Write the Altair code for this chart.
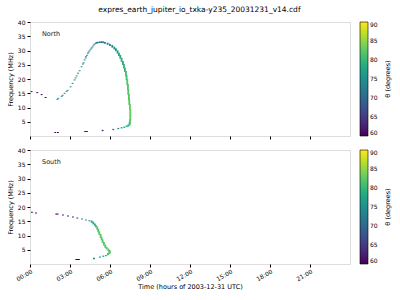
import altair as alt
import pandas as pd

TITLE = "expres_earth_jupiter_io_txka-y235_20031231_v14.cdf"

# North: time (h), lower / upper frequency (MHz), theta (deg)
north_t = [0.05, 0.475, 0.8, 1.1, 1.825, 2.025, 4.07, 4.2,
           1.975, 2.05, 2.30, 2.375, 2.525, 2.675, 2.75, 2.975, 3.125, 3.275, 3.35, 3.425,
           3.525, 3.65, 3.8, 3.9, 3.95, 4.025, 4.1, 4.125, 4.2, 4.275, 4.325, 4.4, 4.475,
           4.55, 4.625, 4.7, 4.775, 4.875, 4.925, 5.025, 5.175, 5.3, 5.425, 5.55,
           5.75, 5.925, 6.1, 6.25, 6.375, 6.5, 6.6, 6.7, 6.8, 6.9, 6.975, 7.05, 7.125,
           7.175, 7.225, 7.275, 7.3, 7.35, 7.375, 7.425, 7.45, 7.425, 7.4, 7.3, 7.175,
           7.0, 6.8, 6.55, 6.175, 5.375]
north_flo = [15.4, 15.05, 14.35, 13.3, 1.05, 1.05, 1.4, 1.4,
             12.7, 13.05, 13.75, 14.1, 14.8, 15.5, 15.85, 17.1, 18.3, 19.5, 20.2, 20.9,
             21.8, 22.7, 24.1, 25.1, 25.5, 26.5, 27.2, 27.6, 28.2, 28.9, 29.3, 29.7, 30.3,
             30.7, 31.1, 31.7, 32.1, 32.4, 32.5, 32.55, 32.6, 32.6, 32.6, 32.4,
             32.0, 31.6, 31.0, 30.4, 29.7, 28.9, 28.1, 27.1, 26.0, 24.9, 23.7, 22.5, 21.0,
             19.6, 17.9, 16.1, 14.4, 12.6, 10.9, 9.1, 5.5, 4.5, 3.7, 3.3, 3.1,
             2.85, 2.65, 2.4, 2.05, 1.7]
north_fhi = [15.4, 15.05, 14.35, 13.3, 1.05, 1.05, 1.4, 1.4,
             12.7, 13.05, 13.75, 14.1, 14.8, 15.5, 15.85, 17.1, 18.3, 19.5, 20.2, 20.9,
             21.8, 22.7, 24.1, 25.1, 25.5, 26.5, 27.2, 27.6, 28.2, 28.9, 29.3, 29.7, 30.3,
             30.7, 31.1, 31.7, 32.1, 32.4, 32.6, 32.75, 32.85, 32.9, 32.85, 32.65,
             32.4, 32.0, 31.6, 31.0, 30.4, 29.7, 28.9, 28.1, 27.1, 26.0, 24.9, 23.7, 22.5,
             21.0, 19.6, 17.9, 16.1, 14.4, 12.6, 10.9, 9.1, 5.5, 4.5, 3.7, 3.3,
             2.95, 2.75, 2.5, 2.15, 1.8]
north_theta = [60, 60, 60, 60, 60, 60, 61, 61,
               74, 74, 74, 74, 74, 74, 74, 74, 74, 74, 74, 74,
               74, 74, 74, 74, 74, 74, 74, 74, 74, 73, 73, 73, 73,
               73, 73, 72, 72, 72, 72, 72, 72, 72, 72, 72,
               73, 74, 75, 76, 77, 77, 78, 78, 79, 79, 80, 80, 81,
               81, 82, 82, 82, 82, 82, 83, 83, 82, 80, 79, 78,
               77, 76, 74, 69, 62]

# South
south_t = [0.075, 0.375, 1.9, 2.0, 2.4, 2.775, 3.15, 3.475, 3.4, 3.5, 3.6,
           3.825, 4.125, 4.375, 4.55, 4.675, 4.8, 4.875, 4.975, 5.05, 5.125, 5.225,
           5.3, 5.375, 5.475, 5.575, 5.675, 5.8, 5.875, 5.925, 5.775, 5.625, 5.425,
           5.175, 4.725]
south_flo = [18.0, 17.7, 17.35, 17.35, 17.0, 16.65, 16.3, 15.95, 1.4, 1.4, 1.4,
             15.6, 15.25, 15.0, 14.5, 13.9, 13.3, 12.8, 12.0, 11.1, 10.2, 9.2,
             8.3, 7.4, 6.5, 5.7, 5.1, 4.6, 3.5, 3.8, 3.1, 2.75, 2.5,
             2.15, 1.7]
south_fhi = [18.0, 17.7, 17.35, 17.35, 17.0, 16.65, 16.3, 15.95, 1.4, 1.4, 1.4,
             15.6, 15.25, 15.0, 14.9, 14.5, 13.9, 13.3, 12.8, 12.0, 11.1, 10.2,
             9.2, 8.3, 7.4, 6.5, 5.7, 5.1, 4.6, 4.4, 3.5, 2.85, 2.6,
             2.25, 1.8]
south_theta = [60, 60, 60, 60, 61, 61, 62, 63, 60, 60, 60,
               72, 73, 74, 76, 78, 80, 81, 82, 82, 82, 82,
               82, 82, 82, 82, 82, 82, 82, 82, 81, 79, 77,
               75, 72]

hour_ticks = [0, 3, 6, 9, 12, 15, 18, 21]
freq_ticks = [5, 10, 15, 20, 25, 30, 35, 40]
theta_ticks = [60, 65, 70, 75, 80, 85, 90]
cbar_title = "θ (degrees)"

FONT = "DejaVu Sans"
W, H = 320, 114


def panel(t, flo, fhi, theta, label, show_x):
    df = pd.DataFrame({"t": t, "flo": flo, "fhi": fhi, "theta": theta})
    if show_x:
        xaxis = alt.Axis(values=hour_ticks, labelExpr="(datum.value < 10 ? '0' : '') + datum.value + ':00'",
                         labelAngle=-30, labelAlign="right", labelBaseline="top",
                         labelFontSize=6, titleFontSize=6.5, titleFontWeight="normal",
                         tickSize=3, labelPadding=1,
                         title="Time (hours of 2003-12-31 UTC)", titlePadding=2,
                         grid=False, domain=False, tickColor="black", labelColor="black",
                         titleColor="black")
    else:
        xaxis = alt.Axis(values=hour_ticks, labels=False, tickSize=3, title=None,
                         grid=False, domain=False, tickColor="black")
    yaxis = alt.Axis(values=freq_ticks, labelFontSize=6, titleFontSize=6.5,
                     titleFontWeight="normal", tickSize=3,
                     labelPadding=2, title="Frequency (MHz)", titlePadding=4,
                     grid=False, domain=False, tickColor="black", labelColor="black",
                     titleColor="black")
    rects = alt.Chart(df).transform_calculate(
        t2="datum.t + 0.14", fhi2="datum.fhi + 0.35"
    ).mark_rect().encode(
        x=alt.X("t:Q", scale=alt.Scale(domain=[0, 24], nice=False), axis=xaxis),
        x2="t2:Q",
        y=alt.Y("flo:Q", scale=alt.Scale(domain=[0, 40], nice=False), axis=yaxis),
        y2="fhi2:Q",
        color=alt.Color("theta:Q", scale=alt.Scale(scheme="viridis", domain=[60, 90]),
                        legend=alt.Legend(title=None,
                                          values=theta_ticks, gradientLength=H,
                                          gradientThickness=8, labelFontSize=6,
                                          labelOverlap=False, offset=10, padding=0,
                                          gradientStrokeColor="black", gradientStrokeWidth=0.6,
                                          labelColor="black", labelFont=FONT)),
    )
    txt = alt.Chart(pd.DataFrame({"lbl": [label]})).mark_text(
        align="left", baseline="middle", fontSize=6.5, font=FONT, color="#222222"
    ).encode(x=alt.value(12), y=alt.value(12), text="lbl:N")
    ctitle = alt.Chart(pd.DataFrame({"lbl": [cbar_title]})).mark_text(
        align="center", baseline="middle", fontSize=6.5, font=FONT, color="black", angle=270
    ).encode(x=alt.value(W + 38), y=alt.value(H / 2), text="lbl:N")
    return alt.layer(rects, txt, ctitle).properties(width=W, height=H)


top = panel(north_t, north_flo, north_fhi, north_theta, "North", False)
bottom = panel(south_t, south_flo, south_fhi, south_theta, "South", True)

chart = alt.vconcat(top, bottom, spacing=6).resolve_scale(color="independent").resolve_legend(
    color="independent"
).properties(
    title=alt.TitleParams(TITLE, fontSize=7.5, font=FONT, fontWeight="normal", anchor="middle",
                          offset=5, color="black"),
    padding={"left": 6, "top": 6, "right": 5, "bottom": 5},
).configure_view(stroke="black", strokeWidth=0.8).configure_legend(
    labelColor="black"
).configure(font=FONT, background="white")

chart.save("out.html", embed_options={"renderer": "svg", "actions": False})
